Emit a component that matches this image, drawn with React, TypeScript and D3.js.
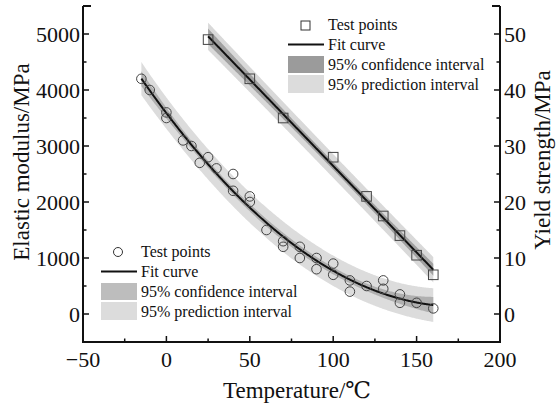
import React, { useEffect } from 'react';
import * as d3 from 'd3';

// ---- Data ----
const circleTemps = [-15, -10, 0, 0, 10, 15, 20, 25, 30, 40, 40, 50, 50, 60, 70, 70, 80, 80, 90, 90, 100, 100, 110, 110, 120, 130, 130, 140, 140, 150, 160];
const modulusValues = [4200, 4000, 3600, 3500, 3100, 3000, 2700, 2800, 2600, 2500, 2200, 2100, 2000, 1500, 1300, 1200, 1200, 1000, 1000, 800, 900, 700, 600, 400, 500, 600, 450, 350, 200, 200, 100];
const squareTemps = [25, 50, 70, 100, 120, 130, 140, 150, 160];
const strengthValues = [49, 42, 35, 28, 21, 17.5, 14, 10.5, 7];

const xTicks = [-50, 0, 50, 100, 150, 200];
const xMinorTicks = [-25, 25, 75, 125, 175];
const leftTicks = [0, 1000, 2000, 3000, 4000, 5000];
const leftMinorTicks = [500, 1500, 2500, 3500, 4500];
const rightTicks = [0, 10, 20, 30, 40, 50];
const rightMinorTicks = [5, 15, 25, 35, 45];
const legendLabels = ['Test points', 'Fit curve', '95% confidence interval', '95% prediction interval'];

const xTitle = 'Temperature/\u2103';
const leftTitle = 'Elastic modulus/MPa';
const rightTitle = 'Yield strength/MPa';

// fit degrees and t critical values (two-sided 95%) for the residual dof
const modulusDegree = 2;
const tCritModulus = 2.048; // df = 28
const strengthDegree = 1;
const tCritStrength = 2.365; // df = 7

// ---- polynomial least squares with confidence / prediction bands ----
function invert(m: number[][]): number[][] {
  const n = m.length;
  const a = m.map((r, i) => [...r, ...Array.from({ length: n }, (_, j) => (i === j ? 1 : 0))]);
  for (let c = 0; c < n; c++) {
    let p = c;
    for (let r = c + 1; r < n; r++) if (Math.abs(a[r][c]) > Math.abs(a[p][c])) p = r;
    [a[c], a[p]] = [a[p], a[c]];
    const pv = a[c][c];
    for (let k = 0; k < 2 * n; k++) a[c][k] /= pv;
    for (let r = 0; r < n; r++) {
      if (r === c) continue;
      const f = a[r][c];
      for (let k = 0; k < 2 * n; k++) a[r][k] -= f * a[c][k];
    }
  }
  return a.map((r) => r.slice(n));
}

function polyFit(xs: number[], ys: number[], deg: number, tCrit: number) {
  const m = deg + 1;
  const basis = (x: number) => Array.from({ length: m }, (_, k) => x ** k);
  const XtX = Array.from({ length: m }, () => new Array(m).fill(0));
  const Xty = new Array(m).fill(0);
  xs.forEach((x, i) => {
    const v = basis(x);
    for (let a = 0; a < m; a++) {
      Xty[a] += v[a] * ys[i];
      for (let b = 0; b < m; b++) XtX[a][b] += v[a] * v[b];
    }
  });
  const inv = invert(XtX);
  const beta = inv.map((r) => r.reduce((s, v, k) => s + v * Xty[k], 0));
  const pred = (x: number) => basis(x).reduce((s, v, k) => s + v * beta[k], 0);
  let sse = 0;
  xs.forEach((x, i) => { sse += (ys[i] - pred(x)) ** 2; });
  const s2 = sse / (xs.length - m);
  return (x: number) => {
    const v = basis(x);
    let h = 0;
    for (let a = 0; a < m; a++) for (let b = 0; b < m; b++) h += v[a] * inv[a][b] * v[b];
    const fit = pred(x);
    const ci = tCrit * Math.sqrt(s2 * h);
    const pi = tCrit * Math.sqrt(s2 * (1 + h));
    return { x, fit, ciLo: fit - ci, ciHi: fit + ci, piLo: fit - pi, piHi: fit + pi };
  };
}

type Row = { x: number; fit: number; ciLo: number; ciHi: number; piLo: number; piHi: number };

const W = 556, H = 412;
const x = d3.scaleLinear().domain([-50, 200]).range([83, 500]);
const yL = d3.scaleLinear().domain([-500, 5500]).range([342, 6]);
const yR = d3.scaleLinear().domain([-5, 55]).range([342, 6]);

const FONT = '"Liberation Serif", "DejaVu Serif", serif';

function bands(xs: number[], ys: number[], deg: number, tc: number): Row[] {
  const f = polyFit(xs, ys, deg, tc);
  const lo = d3.min(xs)!, hi = d3.max(xs)!;
  const pts = d3.range(lo, hi, 0.5).concat([hi]);
  return pts.map(f);
}

const modRows = bands(circleTemps, modulusValues, modulusDegree, tCritModulus);
const strRows = bands(squareTemps, strengthValues, strengthDegree, tCritStrength);

function Series({ rows, y, piColor, ciColor }: { rows: Row[]; y: d3.ScaleLinear<number, number>; piColor: string; ciColor: string }) {
  const pi = d3.area<Row>().x((d) => x(d.x)).y0((d) => y(d.piLo)).y1((d) => y(d.piHi))(rows) || '';
  const ci = d3.area<Row>().x((d) => x(d.x)).y0((d) => y(d.ciLo)).y1((d) => y(d.ciHi))(rows) || '';
  const ln = d3.line<Row>().x((d) => x(d.x)).y((d) => y(d.fit))(rows) || '';
  return (
    <g>
      <path d={pi} fill={piColor} />
      <path d={ci} fill={ciColor} />
      <path d={ln} fill="none" stroke="#111" strokeWidth={2} />
    </g>
  );
}

function Legend({ ox, oy, marker, ciColor, piColor }: { ox: number; oy: number; marker: 'circle' | 'square'; ciColor: string; piColor: string }) {
  const tx = ox + 40;
  return (
    <g fontFamily={FONT} fontSize={16} fill="#111">
      {marker === 'circle' ? (
        <circle cx={ox + 17} cy={oy} r={4.5} fill="none" stroke="#333" strokeWidth={1} />
      ) : (
        <rect x={ox + 13} y={oy - 4} width={9} height={9} fill="none" stroke="#333" strokeWidth={1} />
      )}
      <text x={tx} y={oy + 5}>{legendLabels[0]}</text>
      <line x1={ox} x2={ox + 36} y1={oy + 19.5} y2={oy + 19.5} stroke="#111" strokeWidth={2} />
      <text x={tx} y={oy + 25}>{legendLabels[1]}</text>
      <rect x={ox} y={oy + 31} width={36} height={17} fill={ciColor} />
      <text x={tx} y={oy + 45}>{legendLabels[2]}</text>
      <rect x={ox} y={oy + 50} width={36} height={18} fill={piColor} />
      <text x={tx} y={oy + 65}>{legendLabels[3]}</text>
    </g>
  );
}

export default function App() {
  useEffect(() => {
    document.body.style.margin = '0';
  }, []);
  const x0 = x.range()[0], x1 = x.range()[1];
  const yb = yL.range()[0], yt = yL.range()[1];
  return (
    <svg width={W} height={H} style={{ display: 'block', position: 'absolute', left: 0, top: 0, background: '#fff' }}>
      <rect width={W} height={H} fill="#fff" />
      <Series rows={strRows} y={yR} piColor="#d9d9d9" ciColor="#a0a0a0" />
      <Series rows={modRows} y={yL} piColor="#dcdcdc" ciColor="#b0b0b0" />

      {circleTemps.map((t, i) => (
        <circle key={'c' + i} cx={x(t)} cy={yL(modulusValues[i])} r={4.8} fill="none" stroke="#444" strokeWidth={1} />
      ))}
      {squareTemps.map((t, i) => (
        <rect key={'s' + i} x={x(t) - 4.8} y={yR(strengthValues[i]) - 4.8} width={9.6} height={9.6} fill="none" stroke="#444" strokeWidth={1} />
      ))}

      {/* axes */}
      <g stroke="#111" strokeWidth={2} fill="none">
        <line x1={x0} x2={x0} y1={yt} y2={yb + 1} />
        <line x1={x1} x2={x1} y1={yt} y2={yb + 1} />
        <line x1={x0} x2={x1} y1={yb} y2={yb} />
        <line x1={x0} x2={x0 + 8} y1={yt} y2={yt} />
        <line x1={x1 - 8} x2={x1} y1={yt} y2={yt} />
      </g>
      <g stroke="#111" strokeWidth={1.5}>
        {xTicks.map((t) => <line key={'xt' + t} x1={x(t)} x2={x(t)} y1={yb} y2={yb - 6} />)}
        {xMinorTicks.map((t) => <line key={'xm' + t} x1={x(t)} x2={x(t)} y1={yb} y2={yb - 3.5} />)}
        {leftTicks.map((t) => <line key={'lt' + t} x1={x0} x2={x0 + 6} y1={yL(t)} y2={yL(t)} />)}
        {leftMinorTicks.map((t) => <line key={'lm' + t} x1={x0} x2={x0 + 3.5} y1={yL(t)} y2={yL(t)} />)}
        {rightTicks.map((t) => <line key={'rt' + t} x1={x1} x2={x1 - 6} y1={yR(t)} y2={yR(t)} />)}
        {rightMinorTicks.map((t) => <line key={'rm' + t} x1={x1} x2={x1 - 3.5} y1={yR(t)} y2={yR(t)} />)}
      </g>

      <g fontFamily={FONT} fontSize={22} fill="#111">
        {xTicks.map((t) => (
          <text key={'xl' + t} x={x(t)} y={367} textAnchor="middle">{t < 0 ? '\u2212' + Math.abs(t) : t}</text>
        ))}
        {leftTicks.map((t) => (
          <text key={'ll' + t} x={x0 - 3} y={yL(t) + 8} textAnchor="end">{t}</text>
        ))}
        {rightTicks.map((t) => (
          <text key={'rl' + t} x={x1 + 4} y={yR(t) + 8} textAnchor="start">{t}</text>
        ))}
      </g>

      <g fontFamily={FONT} fontSize={23} fill="#111">
        <text x={297} y={398} textAnchor="middle">{xTitle}</text>
        <text transform={`translate(29,162) rotate(-90)`} textAnchor="middle">{leftTitle}</text>
        <text transform={`translate(550,160) rotate(-90)`} textAnchor="middle">{rightTitle}</text>
      </g>

      <Legend ox={288} oy={25} marker="square" ciColor="#9b9b9b" piColor="#dcdcdc" />
      <Legend ox={101} oy={252} marker="circle" ciColor="#bdbdbd" piColor="#dcdcdc" />
    </svg>
  );
}
